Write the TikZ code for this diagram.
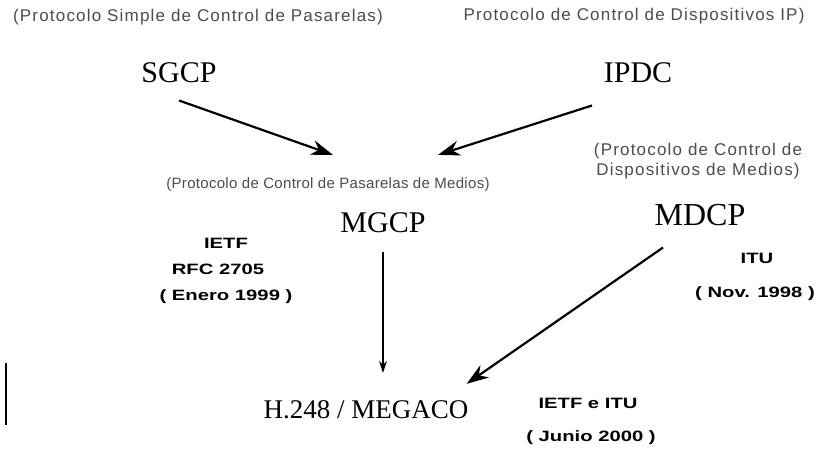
\documentclass[tikz,border=0pt]{standalone}
\usepackage{fontspec}
\setmainfont{Liberation Serif}
\setsansfont{Liberation Sans}
\usetikzlibrary{arrows.meta}

\begin{document}
\begin{tikzpicture}[x=1pt,y=-1pt,>={Stealth[length=22pt,width=15pt]},
  proto/.style={font=\fontsize{30}{32}\selectfont,inner sep=0pt,anchor=base},
  longname/.style={font=\sffamily\fontsize{17}{20}\selectfont\addfontfeature{LetterSpace=7},text=black!70,inner sep=0pt,anchor=base},
  origin/.style={font=\sffamily\bfseries\fontsize{15}{17}\selectfont\addfontfeature{FakeStretch=1.35},inner sep=0pt,anchor=base},
  flow/.style={->,line width=2.2pt},
  thinflow/.style={-{Stealth[length=12pt,width=8pt]},line width=1.3pt}]
 \useasboundingbox (0,0) rectangle (821,452);

 \node[longname] (sgcpname) at (198,22)  {(Protocolo Simple de Control de Pasarelas)};
 \node[proto]    (sgcp)     at (179,82)  {SGCP};
 \node[longname] (ipdcname) at (634,21)  {Protocolo de Control de Dispositivos IP)};
 \node[proto]    (ipdc)     at (638,82)  {IPDC};

 \node[longname,font=\sffamily\fontsize{15}{18}\selectfont\addfontfeature{LetterSpace=2}] (mgcpname) at (328,188) {(Protocolo de Control de Pasarelas de Medios)};
 \node[proto]    (mgcp)     at (383,232) {MGCP};
 \node[longname,align=center,anchor=south] (mdcpname) at (698,179) {(Protocolo de Control de\\Dispositivos de Medios)};
 \node[proto,font=\fontsize{32}{34}\selectfont] (mdcp) at (700,225) {MDCP};

 \node[proto,font=\fontsize{27}{29}\selectfont] (megaco) at (366,418) {H.248 / MEGACO};

 % organismos y fechas
 \node[origin] (mgcpietf)   at (226,248) {IETF};
 \node[origin] (mgcprfc)    at (218,274) {RFC 2705};
 \node[origin] (mgcpdate)   at (226,300) {( Enero 1999 )};
 \node[origin] (mdcpitu)    at (757,263) {ITU};
 \node[origin] (mdcpdate)   at (755,297) {( Nov. 1998 )};
 \node[origin] (megacoorg)  at (588,408) {IETF e ITU};
 \node[origin] (megacodate) at (591,441) {( Junio 2000 )};

 \draw[flow] ([yshift=-18pt]sgcp.south) -- ([xshift=5pt,yshift=22pt]mgcpname.north);
 \draw[flow] ([xshift=-46pt,yshift=-23pt]ipdc.south) -- ([xshift=110pt,yshift=22pt]mgcpname.north);
 \draw[thinflow] ([yshift=-20pt]mgcp.south) -- ([xshift=17pt,yshift=27pt]megaco.north);
 \draw[flow] ([xshift=-37pt,yshift=-22pt]mdcp.south) -- ([xshift=-2pt,yshift=16pt]megaco.north east);

 \draw[line width=2pt] (6,363) -- (6,425);
\end{tikzpicture}
\end{document}
